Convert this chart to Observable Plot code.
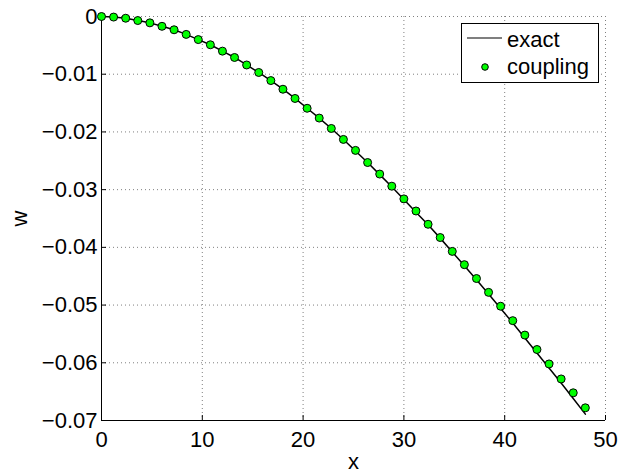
<!DOCTYPE html>
<html><head><meta charset="utf-8">
<script src="https://cdn.jsdelivr.net/npm/d3@7"></script>
<script src="https://cdn.jsdelivr.net/npm/@observablehq/plot@0.6"></script>
<style>
body{margin:0;background:#fff;}
#wrap{position:relative;width:634px;height:476px;font-family:"Liberation Sans",Arial,sans-serif;}
#legend{position:absolute;left:461px;top:23px;width:136px;height:58px;border:1px solid #000;background:#fff;}
#legend svg{display:block;}
</style></head><body><div id="wrap"></div>
<script>
const xValues = [0, 1.2, 2.4, 3.6, 4.8, 6, 7.2, 8.4, 9.6, 10.8, 12, 13.2, 14.4, 15.6, 16.8, 18, 19.2, 20.4, 21.6, 22.8, 24, 25.2, 26.4, 27.6, 28.8, 30, 31.2, 32.4, 33.6, 34.8, 36, 37.2, 38.4, 39.6, 40.8, 42, 43.2, 44.4, 45.6, 46.8, 48];
const exactW = [0, -0.0001, -0.0003, -0.0007, -0.0011, -0.0017, -0.0023, -0.0031, -0.0040, -0.0049, -0.0060, -0.0071, -0.0084, -0.0097, -0.0111, -0.0126, -0.0142, -0.0159, -0.0176, -0.0194, -0.0213, -0.0233, -0.0253, -0.0274, -0.0295, -0.0317, -0.0339, -0.0361, -0.0384, -0.0408, -0.0432, -0.0456, -0.0481, -0.0506, -0.0531, -0.0557, -0.0583, -0.0609, -0.0635, -0.0662, -0.0689];
const couplingW = [0, -0.0001, -0.0003, -0.0007, -0.0011, -0.0017, -0.0023, -0.0031, -0.0040, -0.0049, -0.0060, -0.0071, -0.0084, -0.0097, -0.0111, -0.0126, -0.0142, -0.0159, -0.0176, -0.0194, -0.0213, -0.0232, -0.0253, -0.0273, -0.0294, -0.0316, -0.0337, -0.0360, -0.0383, -0.0407, -0.0430, -0.0454, -0.0478, -0.0502, -0.0527, -0.0552, -0.0577, -0.0602, -0.0628, -0.0652, -0.0678];
const xTicks = [0, 10, 20, 30, 40, 50];
const yTicks = [0, -0.01, -0.02, -0.03, -0.04, -0.05, -0.06, -0.07];
const seriesNames = ["exact", "coupling"];
const xLabel = "x";
const yLabel = "w";

const exactData = xValues.map((x, i) => ({x, w: exactW[i]}));
const couplingData = xValues.map((x, i) => ({x, w: couplingW[i]}));
const fmtY = d => d === 0 ? "0" : d3.format(".2f")(d);

const chart = Plot.plot({
  width: 634, height: 476,
  marginLeft: 101, marginRight: 29, marginTop: 16, marginBottom: 56,
  style: {fontFamily: "Liberation Sans, Arial, sans-serif", background: "#fff", color: "#000", overflow: "visible"},
  x: {domain: [0, 50]},
  y: {domain: [-0.07, 0]},
  marks: [
    Plot.gridX(xTicks, {stroke: "#000", strokeOpacity: 0.5, strokeDasharray: "1,3"}),
    Plot.gridY(yTicks, {stroke: "#000", strokeOpacity: 0.5, strokeDasharray: "1,3"}),
    Plot.ruleX([0], {stroke: "#000"}),
    Plot.ruleY([-0.07], {stroke: "#000"}),
    Plot.axisX(xTicks, {tickSize: -5, tickPadding: 16, fontSize: 22, label: null, tickFormat: d => String(d)}),
    Plot.axisY(yTicks, {tickSize: -5, tickPadding: 9, fontSize: 22, label: null, tickFormat: fmtY}),
    Plot.axisX([], {label: xLabel, labelAnchor: "center", labelArrow: "none", labelOffset: 48, fontSize: 22, tickSize: 0}),
    Plot.axisY([], {label: yLabel, labelAnchor: "center", labelArrow: "none", labelOffset: 90, fontSize: 22, tickSize: 0}),
    Plot.line(exactData, {x: "x", y: "w", stroke: "#000", strokeWidth: 1.5}),
    Plot.dot(couplingData, {x: "x", y: "w", r: 4, fill: "#00ff00", stroke: "#000", strokeWidth: 1})
  ]
});
const wrap = document.getElementById("wrap");
wrap.appendChild(chart);

const legend = document.createElement("div");
legend.id = "legend";
legend.innerHTML = `<svg width="136" height="58" font-family="Liberation Sans, Arial, sans-serif" font-size="22">
  <line x1="5" x2="40" y1="14" y2="14" stroke="#000" stroke-width="1.2"/>
  <circle cx="23" cy="43" r="3.3" fill="#00ff00" stroke="#000" stroke-width="1"/>
  <text x="45" y="23">${seriesNames[0]}</text>
  <text x="45" y="50">${seriesNames[1]}</text>
</svg>`;
wrap.appendChild(legend);
</script>
</body></html>
